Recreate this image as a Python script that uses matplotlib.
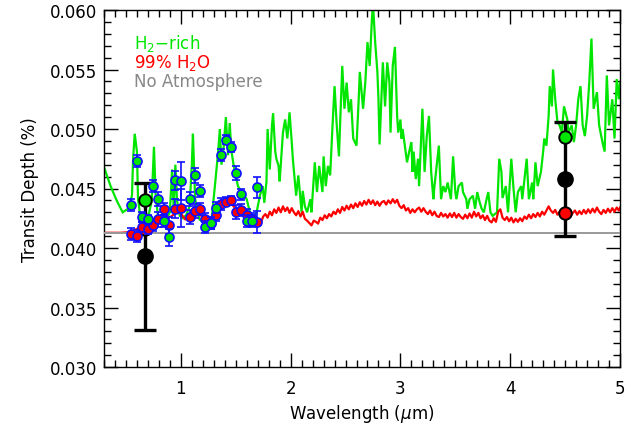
import numpy as np
import matplotlib
matplotlib.use("Agg")
import matplotlib.pyplot as plt
from matplotlib.ticker import MultipleLocator, FormatStrFormatter

# ---------------- data ----------------
green_model = [
    (0.30, 0.0468), (0.36, 0.0452), (0.42, 0.0439), (0.47, 0.0430), (0.52, 0.0433),
    (0.555, 0.0444), (0.565, 0.0475), (0.58, 0.0496), (0.60, 0.0481), (0.61, 0.0441),
    (0.63, 0.0427), (0.67, 0.0425), (0.71, 0.0429), (0.735, 0.0440), (0.755, 0.0485),
    (0.77, 0.0445), (0.79, 0.0428), (0.83, 0.0422), (0.87, 0.0425), (0.90, 0.0430),
    (0.92, 0.0466), (0.935, 0.0432), (0.95, 0.0470), (0.965, 0.0440), (0.99, 0.0427),
    (1.02, 0.0425), (1.05, 0.0428), (1.08, 0.0435), (1.10, 0.0470), (1.11, 0.0496),
    (1.13, 0.0441), (1.17, 0.0424), (1.21, 0.0421), (1.24, 0.0422), (1.28, 0.0424),
    (1.31, 0.0452), (1.34, 0.0481), (1.355, 0.0500), (1.37, 0.0470), (1.39, 0.0485),
    (1.41, 0.0510), (1.43, 0.0478), (1.445, 0.0505), (1.46, 0.0482), (1.48, 0.0470),
    (1.52, 0.0452), (1.56, 0.0446), (1.60, 0.0441), (1.65, 0.0422), (1.69, 0.0430),
    (1.72, 0.0444), (1.745, 0.0452), (1.76, 0.0438), (1.78, 0.0456), (1.79, 0.0500),
    (1.81, 0.0466), (1.83, 0.0503), (1.84, 0.0513), (1.86, 0.0481), (1.87, 0.0475),
    (1.89, 0.0469), (1.90, 0.0456), (1.93, 0.0497), (1.95, 0.0508), (1.97, 0.0492),
    (1.99, 0.0514), (2.01, 0.0489), (2.02, 0.0475), (2.05, 0.0444), (2.07, 0.0461),
    (2.09, 0.0441), (2.10, 0.0430), (2.11, 0.0448), (2.13, 0.0435), (2.15, 0.0430),
    (2.18, 0.0441), (2.19, 0.0430), (2.22, 0.0472), (2.24, 0.0447), (2.26, 0.0469),
    (2.29, 0.0447), (2.30, 0.0477), (2.32, 0.0452), (2.34, 0.0469), (2.36, 0.0461),
    (2.38, 0.0500), (2.40, 0.0536), (2.42, 0.0503), (2.44, 0.0477), (2.47, 0.0553),
    (2.49, 0.0517), (2.51, 0.0539), (2.53, 0.0514), (2.55, 0.0525), (2.57, 0.0492),
    (2.60, 0.0486), (2.62, 0.0525), (2.63, 0.0548), (2.66, 0.0517), (2.68, 0.0539),
    (2.70, 0.0573), (2.72, 0.0553), (2.74, 0.0592), (2.75, 0.0605), (2.77, 0.0573),
    (2.79, 0.0548), (2.80, 0.0525), (2.81, 0.0487), (2.84, 0.0556), (2.86, 0.0519),
    (2.88, 0.0556), (2.90, 0.0539), (2.91, 0.0497), (2.93, 0.0553), (2.95, 0.0569),
    (2.97, 0.0511), (2.98, 0.0497), (3.00, 0.0508), (3.01, 0.0492), (3.02, 0.0500),
    (3.04, 0.0486), (3.06, 0.0472), (3.08, 0.0481), (3.10, 0.0489), (3.11, 0.0464),
    (3.12, 0.0481), (3.14, 0.0458), (3.16, 0.0475), (3.17, 0.0452), (3.20, 0.0517),
    (3.21, 0.0492), (3.22, 0.0464), (3.24, 0.0494), (3.26, 0.0511), (3.28, 0.0464),
    (3.30, 0.0441), (3.31, 0.0452), (3.33, 0.0469), (3.35, 0.0486), (3.37, 0.0441),
    (3.39, 0.0452), (3.41, 0.0447), (3.43, 0.0455), (3.46, 0.0441), (3.48, 0.0477),
    (3.50, 0.0447), (3.51, 0.0441), (3.53, 0.0452), (3.56, 0.0455), (3.57, 0.0447),
    (3.60, 0.0441), (3.61, 0.0433), (3.63, 0.0441), (3.66, 0.0444), (3.68, 0.0433),
    (3.70, 0.0447), (3.72, 0.0439), (3.74, 0.0433), (3.76, 0.0430), (3.78, 0.0439),
    (3.80, 0.0447), (3.82, 0.0430), (3.84, 0.0427), (3.88, 0.0430), (3.90, 0.0475),
    (3.92, 0.0464), (3.93, 0.0442), (3.96, 0.0452), (3.98, 0.0430), (4.01, 0.0475),
    (4.03, 0.0450), (4.05, 0.0430), (4.07, 0.0447), (4.10, 0.0452), (4.11, 0.0441),
    (4.13, 0.0458), (4.15, 0.0475), (4.17, 0.0441), (4.20, 0.0455), (4.21, 0.0441),
    (4.23, 0.0472), (4.25, 0.0452), (4.28, 0.0464), (4.30, 0.0481), (4.31, 0.0492),
    (4.33, 0.0486), (4.35, 0.0511), (4.36, 0.0536), (4.38, 0.0519), (4.39, 0.0550),
    (4.41, 0.0525), (4.43, 0.0506), (4.45, 0.0503), (4.47, 0.0497), (4.49, 0.0519),
    (4.52, 0.0508), (4.53, 0.0497), (4.56, 0.0503), (4.58, 0.0489), (4.60, 0.0503),
    (4.62, 0.0525), (4.64, 0.0536), (4.66, 0.0503), (4.68, 0.0494), (4.70, 0.0511),
    (4.72, 0.0539), (4.74, 0.0576), (4.76, 0.0517), (4.79, 0.0531), (4.81, 0.0503),
    (4.84, 0.0489), (4.86, 0.0481), (4.88, 0.0545), (4.90, 0.0503), (4.93, 0.0525),
    (4.95, 0.0492), (4.97, 0.0542), (4.99, 0.0525), (5.00, 0.0539),
]

red_model = [
    (0.30, 0.04128), (0.45, 0.04128), (0.52, 0.04132), (0.56, 0.04145), (0.60, 0.04160),
    (0.64, 0.04185), (0.68, 0.04170), (0.72, 0.04190), (0.76, 0.04210), (0.80, 0.04240),
    (0.84, 0.04290), (0.88, 0.04250), (0.92, 0.04270), (0.96, 0.04300), (1.00, 0.04290),
    (1.04, 0.04240), (1.08, 0.04255), (1.12, 0.04300), (1.16, 0.04310), (1.20, 0.04250),
    (1.24, 0.04210), (1.28, 0.04250), (1.32, 0.04300), (1.36, 0.04370), (1.40, 0.04390),
    (1.44, 0.04400), (1.48, 0.04350), (1.52, 0.04310), (1.56, 0.04300), (1.60, 0.04270),
    (1.64, 0.04230), (1.68, 0.04215), (1.71, 0.04240), (1.73, 0.04215), (1.75, 0.04265),
    (1.77, 0.04285), (1.79, 0.04255), (1.81, 0.04305), (1.83, 0.04275), (1.85, 0.04325),
    (1.87, 0.04295), (1.89, 0.04340), (1.91, 0.04300), (1.93, 0.04350), (1.95, 0.04310),
    (1.97, 0.04340), (1.99, 0.04295), (2.01, 0.04335), (2.03, 0.04300), (2.05, 0.04275),
    (2.07, 0.04310), (2.09, 0.04265), (2.11, 0.04305), (2.13, 0.04245), (2.15, 0.04230),
    (2.17, 0.04210), (2.19, 0.04190), (2.21, 0.04230), (2.23, 0.04220), (2.25, 0.04205),
    (2.27, 0.04255), (2.29, 0.04235), (2.31, 0.04275), (2.33, 0.04250), (2.35, 0.04285),
    (2.37, 0.04265), (2.39, 0.04305), (2.41, 0.04285), (2.43, 0.04325), (2.45, 0.04295),
    (2.47, 0.04345), (2.49, 0.04315), (2.51, 0.04355), (2.53, 0.04325), (2.55, 0.04365),
    (2.57, 0.04335), (2.59, 0.04375), (2.61, 0.04345), (2.63, 0.04385), (2.65, 0.04355),
    (2.67, 0.04395), (2.69, 0.04365), (2.71, 0.04405), (2.73, 0.04370), (2.75, 0.04400),
    (2.77, 0.04360), (2.79, 0.04390), (2.81, 0.04355), (2.83, 0.04385), (2.85, 0.04395),
    (2.87, 0.04365), (2.89, 0.04400), (2.91, 0.04375), (2.93, 0.04410), (2.95, 0.04380),
    (2.97, 0.04405), (2.99, 0.04355), (3.01, 0.04335), (3.03, 0.04360), (3.05, 0.04315),
    (3.07, 0.04335), (3.09, 0.04295), (3.11, 0.04325), (3.13, 0.04300), (3.15, 0.04325),
    (3.17, 0.04340), (3.19, 0.04305), (3.21, 0.04335), (3.23, 0.04305), (3.25, 0.04285),
    (3.27, 0.04315), (3.29, 0.04275), (3.31, 0.04305), (3.33, 0.04270), (3.35, 0.04260),
    (3.37, 0.04295), (3.39, 0.04265), (3.41, 0.04285), (3.43, 0.04255), (3.45, 0.04290),
    (3.47, 0.04260), (3.49, 0.04295), (3.51, 0.04255), (3.53, 0.04285), (3.55, 0.04260),
    (3.57, 0.04245), (3.59, 0.04280), (3.61, 0.04250), (3.63, 0.04290), (3.65, 0.04255),
    (3.67, 0.04305), (3.69, 0.04265), (3.71, 0.04295), (3.73, 0.04250), (3.75, 0.04275),
    (3.77, 0.04235), (3.79, 0.04270), (3.81, 0.04230), (3.83, 0.04215), (3.85, 0.04250),
    (3.87, 0.04220), (3.89, 0.04305), (3.91, 0.04325), (3.93, 0.04255), (3.95, 0.04235),
    (3.97, 0.04260), (3.99, 0.04225), (4.01, 0.04255), (4.03, 0.04215), (4.05, 0.04245),
    (4.07, 0.04220), (4.09, 0.04250), (4.11, 0.04225), (4.13, 0.04265), (4.15, 0.04245),
    (4.17, 0.04280), (4.19, 0.04250), (4.21, 0.04285), (4.23, 0.04260), (4.25, 0.04295),
    (4.27, 0.04265), (4.29, 0.04305), (4.31, 0.04280), (4.33, 0.04315), (4.35, 0.04350),
    (4.37, 0.04315), (4.39, 0.04295), (4.41, 0.04320), (4.43, 0.04280), (4.45, 0.04305),
    (4.47, 0.04275), (4.49, 0.04300), (4.51, 0.04270), (4.53, 0.04300), (4.55, 0.04265),
    (4.57, 0.04295), (4.59, 0.04315), (4.61, 0.04280), (4.63, 0.04310), (4.65, 0.04285),
    (4.67, 0.04320), (4.69, 0.04290), (4.71, 0.04325), (4.73, 0.04295), (4.75, 0.04330),
    (4.77, 0.04300), (4.79, 0.04340), (4.81, 0.04305), (4.83, 0.04285), (4.85, 0.04320),
    (4.87, 0.04295), (4.89, 0.04330), (4.91, 0.04300), (4.93, 0.04335), (4.95, 0.04305),
    (4.97, 0.04340), (4.99, 0.04315), (5.00, 0.04340),
]

flat_depth = 0.04125  # No Atmosphere

# simulated data points (shared wavelengths and errors)
pt_wl = [0.546, 0.597, 0.642, 0.697, 0.749, 0.794, 0.846, 0.891, 0.946, 0.997,
         1.083, 1.128, 1.174, 1.220, 1.271, 1.317, 1.362, 1.410, 1.457, 1.500,
         1.547, 1.600, 1.645, 1.690]
pt_err = [0.0005, 0.0005, 0.0004, 0.0004, 0.0005, 0.0006, 0.0005, 0.0007, 0.0008, 0.0016,
          0.0006, 0.0006, 0.0005, 0.0005, 0.0005, 0.0005, 0.0005, 0.0004, 0.0004, 0.0006,
          0.0005, 0.0005, 0.0005, 0.0009]
pt_green = [0.0436, 0.0473, 0.0426, 0.0424, 0.0452, 0.0441, 0.0423, 0.0409, 0.0457, 0.0456,
            0.0441, 0.0461, 0.0448, 0.0418, 0.0421, 0.0434, 0.0478, 0.0491, 0.0485, 0.0463,
            0.0445, 0.0423, 0.0423, 0.0451]
pt_red = [0.0412, 0.0410, 0.0418, 0.0416, 0.0419, 0.0424, 0.0433, 0.0419, 0.0433, 0.0434,
          0.0426, 0.0431, 0.0433, 0.0424, 0.0421, 0.0428, 0.0437, 0.0439, 0.0440, 0.0430,
          0.0432, 0.0428, 0.0424, 0.0422]

# broadband measurements
bb_wl = [0.67, 4.50]
bb_depth = [0.0393, 0.0458]
bb_err = [0.0062, 0.0048]
bb_green = [0.0440, 0.0493]
bb_red = [0.0416, 0.0429]

GREEN = "#00e600"
RED = "#ff0000"
GRAY = "#999999"
BLUE = "#1010ff"

# ---------------- figure ----------------
fig = plt.figure(figsize=(6.31, 4.27), dpi=100)
ax = fig.add_axes([104/631, 1-368/427, (620-104)/631, (368-11)/427])

gw, gd = np.array(green_model).T
rw, rd = np.array(red_model).T

ax.plot(gw, gd, color=GREEN, lw=1.6, zorder=2, solid_joinstyle="miter")
ax.plot(rw, rd, color=RED, lw=1.6, zorder=2)
ax.axhline(flat_depth, color=GRAY, lw=1.4, zorder=3)

ax.errorbar(bb_wl, bb_depth, yerr=bb_err, fmt="o", ms=11, mfc="black", mec="black",
            ecolor="black", elinewidth=2.4, capsize=8, capthick=2.4, zorder=3.2)
ax.plot(bb_wl, bb_red, "o", ms=9, mfc=RED, mec="black", mew=1.4, zorder=3.4)

ax.errorbar(pt_wl, pt_red, yerr=pt_err, fmt="o", ms=6.5, mfc=RED, mec=BLUE, mew=1.2,
            ecolor=BLUE, elinewidth=1.2, capsize=3, capthick=1.2, zorder=4)
ax.errorbar(pt_wl, pt_green, yerr=pt_err, fmt="o", ms=6.5, mfc=GREEN, mec=BLUE, mew=1.2,
            ecolor=BLUE, elinewidth=1.2, capsize=3, capthick=1.2, zorder=5)

ax.plot(bb_wl, bb_green, "o", ms=9, mfc=GREEN, mec="black", mew=1.4, zorder=7)

ax.set_xlim(0.3, 5.0)
ax.set_ylim(0.030, 0.060)
ax.xaxis.set_major_locator(MultipleLocator(1))
ax.xaxis.set_minor_locator(MultipleLocator(0.1))
ax.yaxis.set_major_locator(MultipleLocator(0.005))
ax.yaxis.set_minor_locator(MultipleLocator(0.001))
ax.xaxis.set_major_formatter(FormatStrFormatter("%d"))
ax.yaxis.set_major_formatter(FormatStrFormatter("%.3f"))
ax.tick_params(which="both", direction="in", top=True, right=True, width=1.0,
               labelsize=12, colors="black")
ax.tick_params(which="major", length=10)
ax.tick_params(which="minor", length=5)
ax.tick_params(axis="x", pad=9)
ax.tick_params(axis="y", pad=5)
for s in ax.spines.values():
    s.set_linewidth(1.0)

ax.set_xlabel(r"Wavelength ($\mu$m)", fontsize=12, labelpad=3)
ax.set_ylabel("Transit Depth (%)", fontsize=12, labelpad=8)

legend_texts = [(r"H$_2$$-$rich", GREEN, 44), (r"99% H$_2$O", RED, 63),
                ("No Atmosphere", "#888888", 82)]
for txt, col, ypix in legend_texts:
    fig.text(134/631, 1 - ypix/427, txt, color=col, fontsize=12, va="center")

fig.savefig("out.png", dpi=100)
